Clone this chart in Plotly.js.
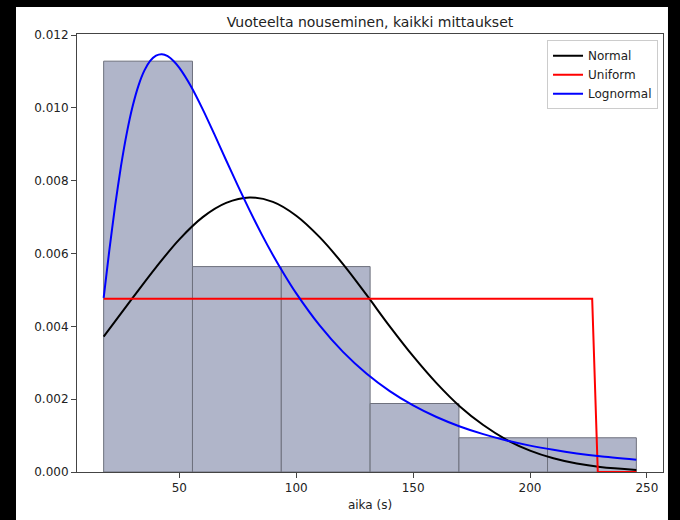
<!DOCTYPE html>
<html>
<head>
<meta charset="utf-8">
<script src="https://cdn.plot.ly/plotly-3.0.1.min.js"></script>
<style>
  html, body { margin: 0; padding: 0; background: #000; }
  #chart { width: 680px; height: 520px; }
</style>
</head>
<body>
<div id="chart"></div>
<script>
// Histogram of rise times (density) with fitted distributions
const binEdges = [17.6, 55.6, 93.6, 131.6, 169.6, 207.5, 245.5];
const binDensity = [0.011284, 0.005642, 0.005642, 0.001881, 0.000940, 0.000940];

const normalX = [17.6, 30, 40, 50, 60, 70, 80, 90, 100, 110, 120, 130, 140, 150, 160, 170, 180, 190, 200, 210, 220, 230, 245.5];
const normalY = [0.00372, 0.00478, 0.00562, 0.00639, 0.00700, 0.00739, 0.00754, 0.00742, 0.00704, 0.00645, 0.00571, 0.00487,
                 0.00400, 0.00318, 0.00244, 0.00180, 0.00129, 0.000885, 0.000588, 0.000377, 0.000233, 0.000139, 0.0000582];

const uniformX = [17.6, 226.6, 229.0, 245.5];
const uniformY = [0.00476, 0.00476, 0, 0];

const lognormX = [17.6, 20, 22.5, 25, 27.5, 30, 32.5, 35, 37.5, 40, 42.5, 45, 47.5, 50, 55, 60, 65, 70, 75, 80, 85,
                  90, 95, 100, 110, 120, 130, 140, 150, 160, 170, 180, 190, 200, 210, 220, 230, 245.5];
const lognormY = [0.00478, 0.006074, 0.007307, 0.008393, 0.009309, 0.010046, 0.010614, 0.011023, 0.011291, 0.011434,
                  0.011473, 0.011420, 0.011290, 0.011100, 0.010588, 0.009960, 0.009271, 0.008563, 0.007865, 0.007192,
                  0.006555, 0.005961, 0.005411, 0.004905, 0.004025, 0.003298, 0.002705, 0.002223, 0.001830, 0.001511,
                  0.001251, 0.001040, 0.000866, 0.000724, 0.000608, 0.000511, 0.000431, 0.000334];

const yTicks = [0, 0.002, 0.004, 0.006, 0.008, 0.010, 0.012];
const xTicks = [50, 100, 150, 200, 250];

const binCenters = binDensity.map((_, i) => (binEdges[i] + binEdges[i + 1]) / 2);
const binWidths = binDensity.map((_, i) => binEdges[i + 1] - binEdges[i]);

const font = 'DejaVu Sans, sans-serif';

const traces = [
  {
    type: 'bar', x: binCenters, y: binDensity, width: binWidths,
    marker: { color: '#b0b5c9', line: { color: '#6e717d', width: 1 } },
    showlegend: false, hoverinfo: 'skip'
  },
  {
    type: 'scatter', mode: 'lines', name: 'Normal', x: normalX, y: normalY,
    line: { color: '#000000', width: 2, shape: 'spline', smoothing: 1 }
  },
  {
    type: 'scatter', mode: 'lines', name: 'Uniform', x: uniformX, y: uniformY,
    line: { color: '#ff0000', width: 2 }
  },
  {
    type: 'scatter', mode: 'lines', name: 'Lognormal', x: lognormX, y: lognormY,
    line: { color: '#0000ff', width: 2, shape: 'spline', smoothing: 0.6 }
  }
];

const layout = {
  width: 680, height: 520,
  margin: { l: 77, r: 17, t: 34, b: 48 },
  paper_bgcolor: '#000000',
  plot_bgcolor: '#ffffff',
  font: { family: font, size: 12, color: '#222222' },
  title: {
    text: 'Vuoteelta nouseminen, kaikki mittaukset',
    font: { family: font, size: 14, color: '#222222' },
    x: 0.5, xref: 'paper', xanchor: 'center',
    y: 1, yref: 'paper', yanchor: 'bottom', pad: { b: 7 }
  },
  bargap: 0,
  xaxis: {
    range: [6.2, 256.9], tickvals: xTicks, ticktext: xTicks.map(String),
    showgrid: false, zeroline: false,
    showline: true, mirror: true, linecolor: '#444444', linewidth: 1,
    ticks: 'outside', ticklen: 5, tickcolor: '#444444',
    tickfont: { family: font, size: 12, color: '#222222' },
    title: { text: 'aika (s)', font: { family: font, size: 12, color: '#222222' }, standoff: 6 },
    automargin: false
  },
  yaxis: {
    range: [0, 0.01203], tickvals: yTicks, ticktext: yTicks.map(v => v.toFixed(3)),
    showgrid: false, zeroline: false,
    showline: true, mirror: true, linecolor: '#444444', linewidth: 1,
    ticks: 'outside', ticklen: 5, tickcolor: '#444444',
    tickfont: { family: font, size: 12, color: '#222222' },
    automargin: false
  },
  legend: {
    x: 0.9915, xanchor: 'right', y: 0.986, yanchor: 'top',
    bgcolor: 'rgba(255,255,255,0.8)', bordercolor: '#cccccc', borderwidth: 1,
    font: { family: font, size: 12, color: '#222222' },
    itemwidth: 30
  },
  shapes: [
    {
      type: 'rect', xref: 'paper', yref: 'paper', layer: 'below',
      x0: -0.1041, x1: 1.0085, y0: -0.1096, y1: 1.0616,
      fillcolor: '#ffffff', line: { width: 0 }
    }
  ]
};

Plotly.newPlot('chart', traces, layout, { staticPlot: true, displayModeBar: false });
</script>
</body>
</html>
